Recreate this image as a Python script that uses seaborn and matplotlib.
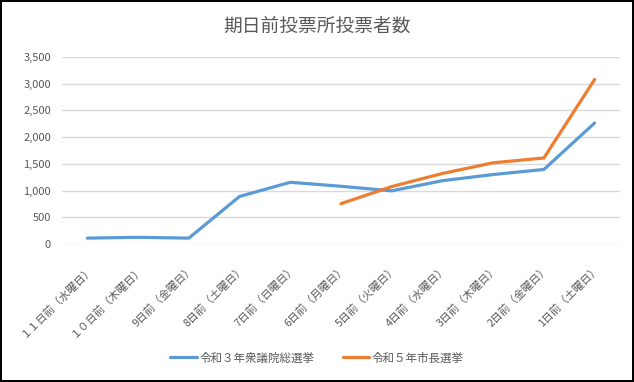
import matplotlib

matplotlib.use("Agg")
import matplotlib.pyplot as plt  # noqa: E402
import numpy as np  # noqa: E402
import pandas as pd  # noqa: E402
import seaborn as sns  # noqa: E402

# ---- data --------------------------------------------------------------------
days = [
    "１１日前（水曜日）", "１０日前（木曜日）", "9日前（金曜日）", "8日前（土曜日）",
    "7日前（日曜日）", "6日前（月曜日）", "5日前（火曜日）", "4日前（水曜日）",
    "3日前（木曜日）", "2日前（金曜日）", "1日前（土曜日）",
]
series_names = ["令和３年衆議院総選挙", "令和５年市長選挙"]
r3_general = [110, 125, 110, 890, 1155, 1080, 995, 1185, 1300, 1395, 2265]
r5_mayor = [np.nan, np.nan, np.nan, np.nan, np.nan, 755, 1075, 1320, 1520, 1610, 3080]
yticks = [0, 500, 1000, 1500, 2000, 2500, 3000, 3500]

df = pd.concat([
    pd.DataFrame({"day": days, "voters": r3_general, "series": series_names[0]}),
    pd.DataFrame({"day": days, "voters": r5_mayor, "series": series_names[1]}),
]).dropna()

sns.set_theme(style="white")
plt.rcParams["font.family"] = ["Noto Sans CJK JP", "DejaVu Sans"]
TXT = "#595959"

fig = plt.figure(figsize=(6.34, 3.82), dpi=100)
fig.patch.set_edgecolor("#000000")
fig.patch.set_linewidth(1.5)
ax = fig.add_axes([62 / 634, 1 - 244 / 382, (620 - 62) / 634, (244 - 57) / 382])

sns.lineplot(data=df, x="day", y="voters", hue="series", hue_order=series_names,
             palette=["#5B9BD5", "#ED7D31"], linewidth=2.3, sort=False, ax=ax)

ax.set_ylim(0, 3500)
ax.set_xlim(-0.5, len(days) - 0.5)
ax.set_yticks(yticks)
ax.set_yticklabels([f"{v:,}" for v in yticks], fontsize=8, color=TXT)
ax.set_xticks(range(len(days)))
ax.set_xticklabels(days, fontsize=7.8, color=TXT)
plt.setp(ax.get_xticklabels(), rotation=45, ha="right", rotation_mode="anchor")
ax.tick_params(axis="both", length=0)
ax.tick_params(axis="x", pad=14)
ax.tick_params(axis="y", pad=8)
ax.yaxis.grid(True, color="#D9D9D9", linewidth=1)
ax.set_axisbelow(True)
for s in ax.spines.values():
    s.set_visible(False)
ax.set_xlabel("")
ax.set_ylabel("")

fig.text(0.5, 1 - 26 / 382, "期日前投票所投票者数", ha="center", va="center",
         fontsize=13.5, color=TXT)

sns.move_legend(ax, "center", bbox_to_anchor=(0.5, 0.063), bbox_transform=fig.transFigure,
                ncol=2, frameon=False, title=None, fontsize=8.3, handlelength=2.3,
                columnspacing=2.5, handletextpad=0.2)
for t in ax.get_legend().get_texts():
    t.set_color(TXT)

fig.savefig("out.png", dpi=100)
